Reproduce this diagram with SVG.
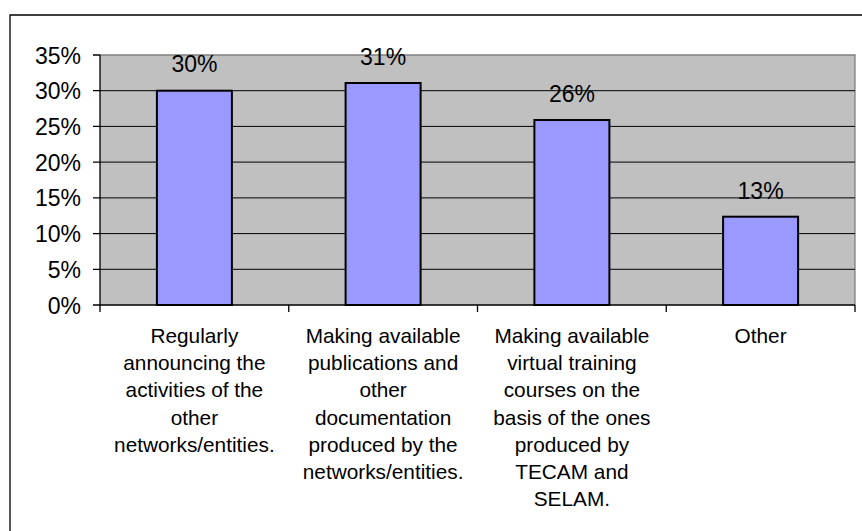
<svg xmlns="http://www.w3.org/2000/svg" width="862" height="531" viewBox="0 0 862 531">
<style>
text{font-family:"Liberation Sans",Arial,sans-serif;fill:#000}
.ax{font-size:23px;text-anchor:end}
.dl{font-size:23px;text-anchor:middle}
.cl{font-size:20.8px;text-anchor:middle}
.grid{stroke:#000;stroke-width:1}
.bar{fill:#9999FF;stroke:#000;stroke-width:2}
</style>
<rect x="0" y="0" width="862" height="531" fill="#fff"/>
<path d="M10 531 V15 H862" fill="none" stroke="#000" stroke-width="1.3"/>
<g id="plot">
<rect x="100" y="55" width="755" height="250" fill="#C0C0C0"/>
<path d="M100 55 H855 V305" fill="none" stroke="#808080" stroke-width="1.3"/>
<g class="grid">
<line x1="100" y1="90.7" x2="855" y2="90.7"/>
<line x1="100" y1="126.4" x2="855" y2="126.4"/>
<line x1="100" y1="162.1" x2="855" y2="162.1"/>
<line x1="100" y1="197.9" x2="855" y2="197.9"/>
<line x1="100" y1="233.6" x2="855" y2="233.6"/>
<line x1="100" y1="269.3" x2="855" y2="269.3"/>
</g>
</g>
<g id="axes" stroke="#000" stroke-width="1.3" fill="none">
<path d="M100 55 V305 H855"/>
<path d="M93 55 H100 M93 90.7 H100 M93 126.4 H100 M93 162.1 H100 M93 197.9 H100 M93 233.6 H100 M93 269.3 H100 M93 305 H100"/>
<path d="M100 305 V312 M288.75 305 V312 M477.5 305 V312 M666.25 305 V312 M855 305 V312"/>
</g>
<g id="yticks">
<text class="ax" x="81" y="63.5">35%</text>
<text class="ax" x="81" y="99.2">30%</text>
<text class="ax" x="81" y="134.9">25%</text>
<text class="ax" x="81" y="170.6">20%</text>
<text class="ax" x="81" y="206.4">15%</text>
<text class="ax" x="81" y="242.1">10%</text>
<text class="ax" x="81" y="277.8">5%</text>
<text class="ax" x="81" y="313.5">0%</text>
</g>
<g id="bar1">
<rect class="bar" x="156.9" y="90.7" width="75" height="214.3"/>
<text class="dl" x="194.4" y="71.7">30%</text>
<text class="cl" x="194.4" y="343"><tspan x="194.4">Regularly</tspan><tspan x="194.4" dy="27.2">announcing the</tspan><tspan x="194.4" dy="27.2">activities of the</tspan><tspan x="194.4" dy="27.2">other</tspan><tspan x="194.4" dy="27.2">networks/entities.</tspan></text>
</g>
<g id="bar2">
<rect class="bar" x="345.6" y="83" width="75" height="222"/>
<text class="dl" x="383.1" y="65">31%</text>
<text class="cl" x="383.1" y="343"><tspan x="383.1">Making available</tspan><tspan x="383.1" dy="27.2">publications and</tspan><tspan x="383.1" dy="27.2">other</tspan><tspan x="383.1" dy="27.2">documentation</tspan><tspan x="383.1" dy="27.2">produced by the</tspan><tspan x="383.1" dy="27.2">networks/entities.</tspan></text>
</g>
<g id="bar3">
<rect class="bar" x="534.4" y="120" width="75" height="185"/>
<text class="dl" x="571.9" y="101.7">26%</text>
<text class="cl" x="571.9" y="343"><tspan x="571.9">Making available</tspan><tspan x="571.9" dy="27.2">virtual training</tspan><tspan x="571.9" dy="27.2">courses on the</tspan><tspan x="571.9" dy="27.2">basis of the ones</tspan><tspan x="571.9" dy="27.2">produced by</tspan><tspan x="571.9" dy="27.2">TECAM and</tspan><tspan x="571.9" dy="27.2">SELAM.</tspan></text>
</g>
<g id="bar4">
<rect class="bar" x="723.1" y="216.7" width="75" height="88.3"/>
<text class="dl" x="760.6" y="199.3">13%</text>
<text class="cl" x="760.6" y="343">Other</text>
</g>
</svg>
